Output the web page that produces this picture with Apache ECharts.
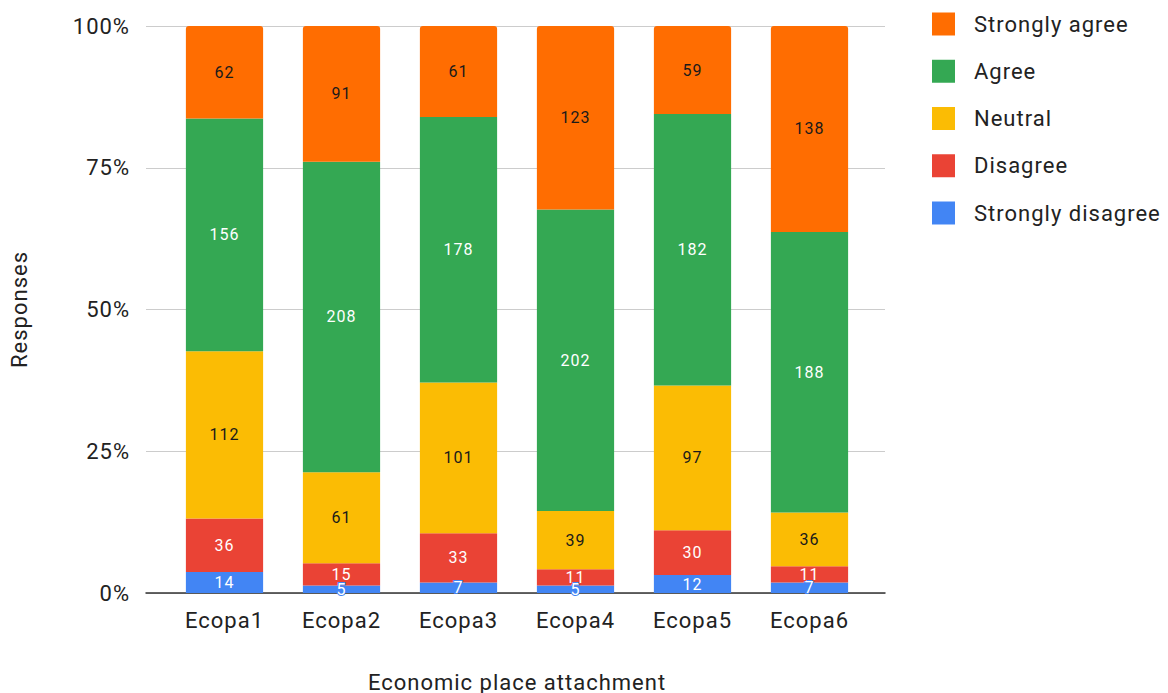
<!DOCTYPE html>
<html>
<head>
<meta charset="utf-8">
<script src="https://cdn.jsdelivr.net/npm/echarts@6/dist/echarts.min.js"></script>
<style>
  html, body { margin: 0; padding: 0; background: #fff; }
  #chart { width: 1168px; height: 693px; }
  /* slightly tracked-out text, as in the sheet's chart style */
  #chart svg text { letter-spacing: 1px; }
</style>
</head>
<body>
<div id="chart"></div>
<script>
// Economic place attachment items
const categories = ['Ecopa1', 'Ecopa2', 'Ecopa3', 'Ecopa4', 'Ecopa5', 'Ecopa6'];

// Response counts per item
const stronglyDisagree = [14, 5, 7, 5, 12, 7];
const disagree = [36, 15, 33, 11, 30, 11];
const neutral = [112, 61, 101, 39, 97, 36];
const agree = [156, 208, 178, 202, 182, 188];
const stronglyAgree = [62, 91, 61, 123, 59, 138];

const yTicks = [0, 25, 50, 75, 100];

const font = 'Roboto, Arial, sans-serif';

const groups = [
  { name: 'Strongly disagree', values: stronglyDisagree, color: '#4285f4', text: '#ffffff' },
  { name: 'Disagree', values: disagree, color: '#ea4335', text: '#ffffff' },
  { name: 'Neutral', values: neutral, color: '#fbbc04', text: '#1a1a1a' },
  { name: 'Agree', values: agree, color: '#34a853', text: '#ffffff' },
  { name: 'Strongly agree', values: stronglyAgree, color: '#ff6d01', text: '#1a1a1a' }
];

// totals per item, for the 100% stacking
const totals = categories.map((_, i) => groups.reduce((s, g) => s + g.values[i], 0));

const series = groups.map((g, gi) => ({
  name: g.name,
  type: 'bar',
  stack: 'total',
  xAxisIndex: 1,
  yAxisIndex: 1,
  barCategoryGap: '34%',
  data: g.values.map((v, i) => ({ value: v / totals[i] * 100, count: v })),
  itemStyle: {
    color: g.color,
    borderRadius: gi === groups.length - 1 ? [3, 3, 0, 0] : 0
  },
  label: {
    show: true,
    position: 'inside',
    fontFamily: font,
    fontSize: 16,
    color: g.text,
    textBorderColor: g.color,
    textBorderWidth: 2,
    formatter: p => p.data.count
  },
  emphasis: { disabled: true }
}));

const chart = echarts.init(document.getElementById('chart'), null, { renderer: 'svg' });
chart.setOption({
  animation: false,
  backgroundColor: '#ffffff',
  textStyle: { fontFamily: font },
  grid: [
    { left: 146, right: 283, top: 26, bottom: 100, outerBoundsMode: 'none', containLabel: false },
    { left: 166, right: 300, top: 26, bottom: 100, outerBoundsMode: 'none', containLabel: false }
  ],
  legend: {
    orient: 'vertical',
    left: 927,
    top: 7.5,
    itemWidth: 23,
    itemHeight: 23,
    itemGap: 24.25,
    icon: 'rect',
    data: ['Strongly agree', 'Agree', 'Neutral', 'Disagree', 'Strongly disagree'],
    textStyle: { fontFamily: font, fontSize: 22, lineHeight: 23, color: '#222', padding: [0, 0, 0, 14] }
  },
  xAxis: [
    {
      gridIndex: 0,
      type: 'value',
      min: 0,
      max: 1,
      axisLine: { show: true, lineStyle: { color: '#333', width: 1.5 } },
      axisTick: { show: false },
      axisLabel: { show: false },
      splitLine: { show: false }
    },
    {
      gridIndex: 1,
      type: 'category',
      data: categories,
      axisLine: { show: false },
      axisTick: { show: false },
      axisLabel: { fontFamily: font, fontSize: 22, color: '#222', margin: 16 },
      name: 'Economic place attachment',
      nameLocation: 'middle',
      nameGap: 78,
      nameTextStyle: { fontFamily: font, fontSize: 22, color: '#222' }
    }
  ],
  yAxis: [
    {
      gridIndex: 0,
      type: 'value',
      min: yTicks[0],
      max: yTicks[yTicks.length - 1],
      interval: 25,
      axisLine: { show: false },
      axisTick: { show: false },
      axisLabel: { fontFamily: font, fontSize: 22, color: '#222', margin: 16, formatter: '{value}%' },
      splitLine: { lineStyle: { color: '#cccccc', width: 1 } },
      name: 'Responses',
      nameLocation: 'middle',
      nameRotate: 90,
      nameGap: 116,
      nameTextStyle: { fontFamily: font, fontSize: 22, color: '#222' }
    },
    {
      gridIndex: 1,
      type: 'value',
      min: 0,
      max: 100,
      show: false,
      splitLine: { show: false }
    }
  ],
  series: series
});
</script>
</body>
</html>
